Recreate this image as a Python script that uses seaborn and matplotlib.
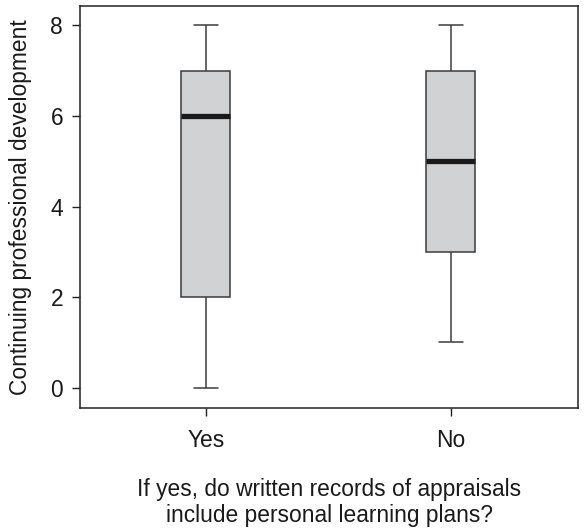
import numpy as np
import pandas as pd
import seaborn as sns
import matplotlib.pyplot as plt

# five-number summaries (min, Q1, median, Q3, max)
groups = ["Yes", "No"]
yes_values = [0, 2, 6, 7, 8]
no_values = [1, 3, 5, 7, 8]
y_ticks = [0, 2, 4, 6, 8]

df = pd.DataFrame({
    "group": ["Yes"] * len(yes_values) + ["No"] * len(no_values),
    "cpd": yes_values + no_values,
})

sns.set_style("ticks")
plt.rcParams["font.family"] = ["Liberation Sans", "DejaVu Sans"]

fig = plt.figure(figsize=(5.87, 5.28), dpi=100)
ax = fig.add_axes([0.136, 0.227, 0.849, 0.762])

edge = "#3c3c3c"
sns.boxplot(data=df, x="group", y="cpd", order=groups, ax=ax,
            width=0.2, color="#d1d2d4", saturation=1, whis=1.5,
            linecolor=edge, linewidth=1.1,
            medianprops={"color": "#1a1a1a", "linewidth": 3.8, "solid_capstyle": "butt"},
            showfliers=False)

ax.set_xlim(-0.515, 1.52)
ax.set_ylim(-0.45, 8.43)
ax.set_yticks(y_ticks)
ax.set_yticklabels([str(t) for t in y_ticks])

for sp in ax.spines.values():
    sp.set_visible(True)
    sp.set_color("#222222")
    sp.set_linewidth(1.1)

fs = 16.4
ax.tick_params(axis="both", labelsize=fs, length=6, width=1, color="#222222",
               labelcolor="#1a1a1a")
ax.tick_params(axis="x", pad=9)
ax.tick_params(axis="y", pad=6)
ax.set_ylabel("Continuing professional development", fontsize=fs, color="#1a1a1a", labelpad=13)
ax.set_xlabel("If yes, do written records of appraisals\ninclude personal learning plans?",
              fontsize=fs, color="#1a1a1a", labelpad=19, linespacing=1.17)

fig.savefig("out.png", dpi=100)
